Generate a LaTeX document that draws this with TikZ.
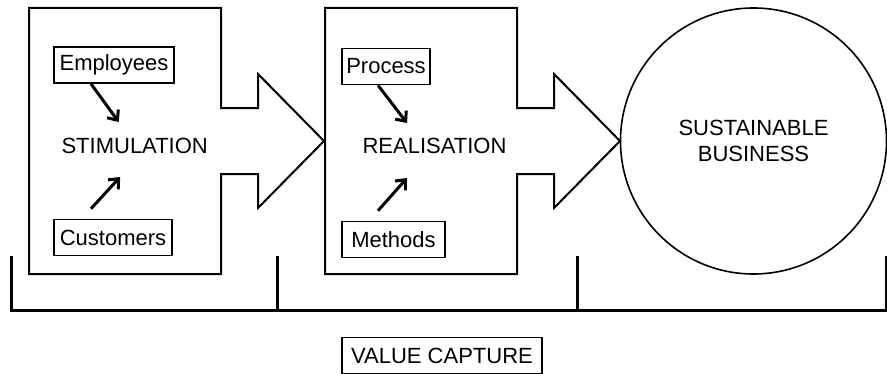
\documentclass[tikz,border=0pt]{standalone}
\usepackage{fontspec}
\setmainfont{Liberation Sans}
\usetikzlibrary{arrows.meta, positioning}

\begin{document}
\begin{tikzpicture}[
            x=0.5pt, y=-0.5pt,
            >={Straight Barb[length=4pt, width=7pt]},
            font=\fontsize{11}{13}\selectfont,
            % Estilo dos blocos em forma de seta
            stage/.style={
                draw=black,
                fill=white,
                line width=1pt,
                line join=miter
            },
            % Estilo das caixinhas de entrada
            tag/.style={
                draw=black,
                rectangle,
                line width=0.8pt,
                inner xsep=2pt,
                inner ysep=0pt,
                minimum height=18pt
            },
            % Estilo das setas internas
            feed/.style={
                draw=black,
                ->,
                line width=1.5pt
            },
            % Estilo da chave inferior
            brace/.style={
                draw=black,
                line width=1.5pt
            }
        ]

            \useasboundingbox (0,0) rectangle (887,374);

            % Blocos em forma de seta
            \foreach \dx in {0,296} {
                \draw [stage, shift={(\dx,0)}]
                    (29,8) -- (221,8) -- (221,108) -- (258,108) -- (258,74)
                    -- (324,141) -- (258,208) -- (258,174) -- (221,174)
                    -- (221,274) -- (29,274) -- cycle;
            }

            % Textos centrais
            \node (stim) at (134.7,146) {STIMULATION};
            \node (real) at (434.5,146) {REALISATION};

            % Caixinhas
            \node [tag, minimum width=60pt] (emp) at (114,65) {Employees};
            \node [tag, minimum width=59pt] (cust) at (113,237.5) {Customers};
            \node [tag, minimum width=44pt] (proc) at (386,66.5) {Process};
            \node [tag, minimum width=51.5pt] (meth) at (393.5,239.5) {Methods};

            % Setas
            \draw [feed] ([xshift=-11.5pt]emp.south) -- ([xshift=-8pt, yshift=12pt]stim.center);
            \draw [feed] ([xshift=-11pt, yshift=5pt]cust.north) -- ([xshift=-7.3pt, yshift=-15.5pt]stim.center);
            \draw [feed] ([xshift=-4pt]proc.south) -- ([xshift=-13.75pt, yshift=11.5pt]real.center);
            \draw [feed] ([xshift=-7.75pt, yshift=5pt]meth.north) -- ([xshift=-13.75pt, yshift=-16pt]real.center);

            % Circulo final
            \node [draw=black, circle, line width=0.8pt, minimum size=133pt,
                   inner sep=0pt, align=center] (goal) at (753.5,141)
                {SUSTAINABLE\\BUSINESS};

            % Chave inferior
            \draw [brace] (11,256) -- (11,310) -- (886,310) -- (886,256);
            \foreach \tx in {277,577}
                \draw [brace] (\tx,256) -- (\tx,310);

            \node [tag, minimum width=100pt] (capture) at (442,355.5) {VALUE CAPTURE};

        \end{tikzpicture}
\end{document}
